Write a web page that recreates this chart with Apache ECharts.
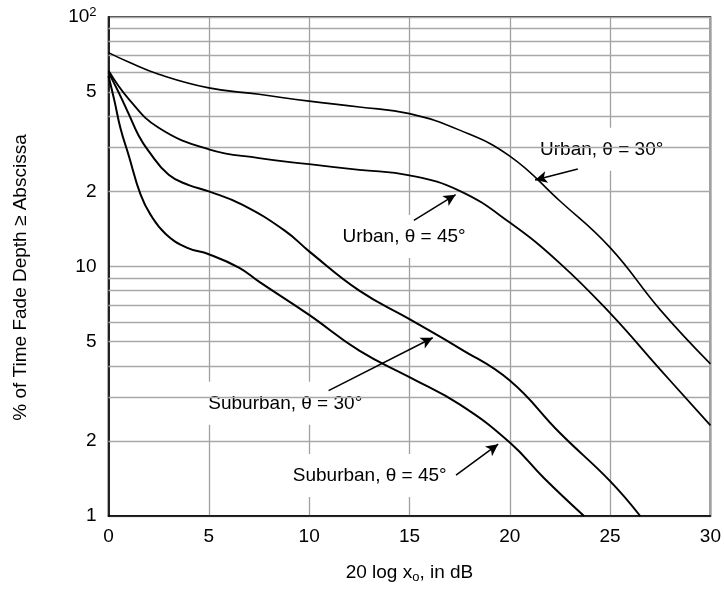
<!DOCTYPE html>
<html>
<head>
<meta charset="utf-8">
<script src="https://cdn.jsdelivr.net/npm/echarts@6/dist/echarts.min.js"></script>
<style>html,body{margin:0;padding:0;background:#fff;}#c{width:724px;height:589px;}</style>
</head>
<body>
<div id="c"></div>
<script>
// ---- data ----
const seriesNames = ['Urban, θ = 30°', 'Urban, θ = 45°', 'Suburban, θ = 30°', 'Suburban, θ = 45°'];
const urban30X = [0, 1, 2.5, 5, 7.5, 10, 12.5, 15, 17.5, 20, 22.5, 25, 27.5, 30];
const urban30Y = [72, 66, 59, 52, 49, 46, 43.6, 41, 35.2, 27.7, 18.3, 11.9, 6.7, 4.07];
const urban45X = [0, 1, 2.5, 5, 7.5, 10, 12.5, 15, 17.5, 20, 22.5, 25, 27.5, 30];
const urban45Y = [61, 47, 36, 29.5, 27.2, 25.7, 24.4, 23.2, 20.1, 15, 10.3, 6.5, 3.86, 2.31];
const sub30X = [0, 0.5, 1, 1.5, 2, 3, 4, 5, 6.66, 8.8, 10, 12.5, 15, 17.5, 20, 22.5, 25, 26.5];
const sub30Y = [60, 50, 41, 33.5, 29, 23.3, 21.2, 20, 17.7, 13.9, 11.5, 8, 6.15, 4.7, 3.49, 2.15, 1.38, 1.0];
const sub45X = [0, 0.3, 0.6, 1, 1.6, 2.1, 2.85, 3.9, 5, 6.5, 7.5, 10, 12.5, 15, 17.5, 20, 21.7, 23.7];
const sub45Y = [58, 46, 35.7, 28, 19.4, 16.1, 13.5, 11.9, 11.2, 9.9, 8.7, 6.4, 4.6, 3.6, 2.8, 1.97, 1.42, 1.0];

const xTicks = [0, 5, 10, 15, 20, 25, 30];
const yLabelValues = [1, 2, 5, 10, 20, 50, 100];
const yMinorGrid = [2, 3, 4, 5, 6, 7, 8, 9, 20, 30, 40, 50, 60, 70, 80, 90];

// annotation label anchors (data coords) and arrows [from, to]
const labelPos = [[24.58, 29.5], [14.73, 13.2], [8.81, 2.83], [13.02, 1.453]];
const arrows = [
  [[23.39, 24.6], [21.26, 22.2]],
  [[15.22, 15.3], [17.3, 19.4]],
  [[10.97, 3.18], [16.16, 5.18]],
  [[17.32, 1.458], [19.42, 1.94]]
];

// ---- chart ----
const FONT = 'Liberation Sans, Arial, Helvetica, sans-serif';
const FS = 19;
const pairs = (xs, ys) => xs.map((x, i) => [x, ys[i]]);
const curves = [pairs(urban30X, urban30Y), pairs(urban45X, urban45Y), pairs(sub30X, sub30Y), pairs(sub45X, sub45Y)];
const widths = [1.6, 1.8, 2, 2];

const chart = echarts.init(document.getElementById('c'), null, {renderer: 'canvas'});

const series = [];
series.push({
  type: 'line', data: [], z: 1, silent: true,
  markLine: {
    silent: true, symbol: ['none', 'none'], animation: false,
    label: {show: false},
    lineStyle: {color: '#a8a8a8', width: 1.3, type: 'solid'},
    emphasis: {disabled: true},
    data: yMinorGrid.map(v => ({yAxis: v}))
  }
});
series.push({
  type: 'scatter', z: 3, silent: true, symbolSize: 0,
  itemStyle: {opacity: 1, color: '#fff'},
  data: labelPos.map((p, i) => ({value: p, name: seriesNames[i]})),
  label: {
    show: true, position: 'inside', formatter: p => p.name,
    color: '#000', opacity: 1, fontFamily: FONT, fontSize: FS,
    textBorderWidth: 0, textBorderColor: 'transparent',
    backgroundColor: '#fff', padding: [12, 12]
  },
  emphasis: {disabled: true}
});
curves.forEach((d, i) => {
  series.push({
    type: 'line', name: seriesNames[i], data: d, z: 5,
    showSymbol: false, symbol: 'none', smooth: 0.45,
    lineStyle: {color: '#000', width: widths[i]},
    animation: false
  });
});
series.push({
  type: 'line', data: [], z: 6, silent: true,
  markLine: {
    silent: true, symbol: ['none', 'arrow'], symbolSize: [9, 12], animation: false,
    label: {show: false},
    lineStyle: {color: '#000', width: 1.5, type: 'solid'},
    emphasis: {disabled: true},
    data: arrows.map(a => [{coord: a[0]}, {coord: a[1]}])
  }
});

chart.setOption({
  animation: false,
  backgroundColor: '#fff',
  grid: {left: 108.5, right: 10.7, top: 17, bottom: 67, show: true, borderColor: '#000', borderWidth: 1.6, containLabel: false},
  xAxis: {
    type: 'value', min: 0, max: 30, interval: 5,
    name: '20 log x{sub|o}, in dB', nameLocation: 'middle', nameGap: 46,
    nameTextStyle: {color: '#000', fontFamily: FONT, fontSize: FS,
      rich: {sub: {fontSize: 13, verticalAlign: 'bottom', padding: [9, 0, 0, 0], fontFamily: FONT, color: '#000'}}},
    axisLine: {show: true, lineStyle: {color: '#000', width: 1.6}},
    axisTick: {show: false},
    axisLabel: {color: '#000', fontFamily: FONT, fontSize: FS, margin: 11},
    splitLine: {show: true, lineStyle: {color: '#a0a0a0', width: 1.3}}
  },
  yAxis: {
    type: 'log', logBase: 10, min: 1, max: 100,
    name: '% of Time Fade Depth ≥ Abscissa', nameLocation: 'middle', nameGap: 78, nameRotate: 90,
    nameTextStyle: {color: '#000', fontFamily: FONT, fontSize: FS, padding: [0, 22, 0, 0]},
    axisLine: {show: true, lineStyle: {color: '#000', width: 1.6}},
    axisTick: {show: false},
    axisLabel: {
      color: '#000', fontFamily: FONT, fontSize: FS, margin: 12,
      customValues: yLabelValues,
      formatter: v => {
        const r = Math.round(v);
        if (r === 100) return '{b|10}{s|2}';
        if (r === 50) return '5';
        if (r === 20) return '2';
        return String(r);
      },
      rich: {
        b: {fontSize: FS, fontFamily: FONT, color: '#000'},
        s: {fontSize: 13, fontFamily: FONT, color: '#000', verticalAlign: 'top', padding: [0, 0, 10, 0]}
      }
    },
    splitLine: {show: true, lineStyle: {color: '#a8a8a8', width: 1.3}}
  },
  series: series
});
</script>
</body>
</html>
